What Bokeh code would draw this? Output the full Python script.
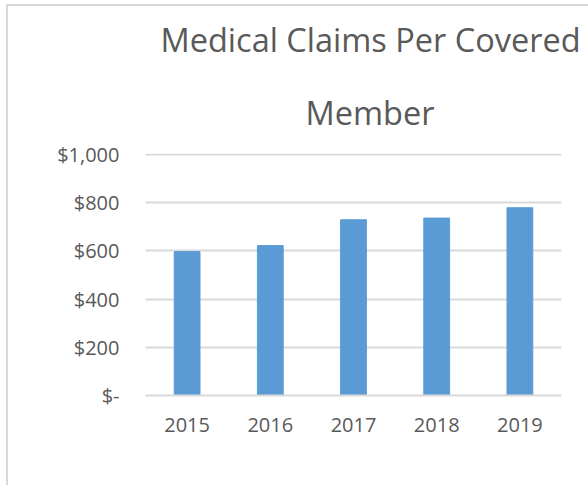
from bokeh.plotting import figure
from bokeh.models import Title, NumeralTickFormatter, FixedTicker, Range1d, InlineStyleSheet
from bokeh.embed import file_html
from bokeh.resources import INLINE

years = ["2015", "2016", "2017", "2018", "2019"]
claims = [597, 622, 729, 736, 779]
y_ticks = [0, 200, 400, 600, 800, 1000]
title_lines = ["Medical Claims Per Covered", "Member"]

TEXT = "#595959"
GRID = "#D9D9D9"
BAR = "#5B9BD5"
FONT = "Open Sans"

p = figure(x_range=years, y_range=Range1d(0, 1004), width=582, height=481,
           output_backend="svg", toolbar_location=None,
           min_border_left=137, min_border_right=29, min_border_top=142, min_border_bottom=92)
p.stylesheets = [InlineStyleSheet(css=":host { border-style: solid none none solid; "
                                      "border-width: 2px 0 0 2px; border-color: #D9D9D9; "
                                      "margin: 4px 0 0 6px; }")]

p.vbar(x=years, top=claims, width=0.31, color=BAR)

p.outline_line_color = None
p.xgrid.grid_line_color = None
p.ygrid.grid_line_color = GRID
p.ygrid.grid_line_width = 2
p.yaxis.ticker = FixedTicker(ticks=y_ticks)
p.yaxis.formatter = NumeralTickFormatter(format="$0,0")
p.yaxis.major_label_overrides = {0: "$-"}
p.yaxis.axis_line_color = None
p.yaxis.major_tick_line_color = None
p.yaxis.minor_tick_line_color = None
p.yaxis.major_tick_out = 0
p.yaxis.major_label_standoff = 26
p.xaxis.axis_line_color = GRID
p.xaxis.axis_line_width = 2
p.xaxis.major_tick_line_color = None
p.xaxis.major_tick_out = 0
p.xaxis.major_label_standoff = 22
for ax in (p.xaxis, p.yaxis):
    ax.major_label_text_font = FONT
    ax.major_label_text_font_size = "20px"
    ax.major_label_text_color = TEXT

p.title.text = title_lines[0]
p.title.align = "left"
p.title.offset = 15
p.title.text_font = FONT
p.title.text_font_size = "32.5px"
p.title.text_font_style = "normal"
p.title.text_color = TEXT
p.title.standoff = 16
p.add_layout(Title(text=title_lines[1], align="left", offset=160, text_font=FONT,
                   text_font_size="32.5px", text_font_style="normal", text_color=TEXT,
                   standoff=37), "above")

open("out.html", "w").write(file_html(p, INLINE))
